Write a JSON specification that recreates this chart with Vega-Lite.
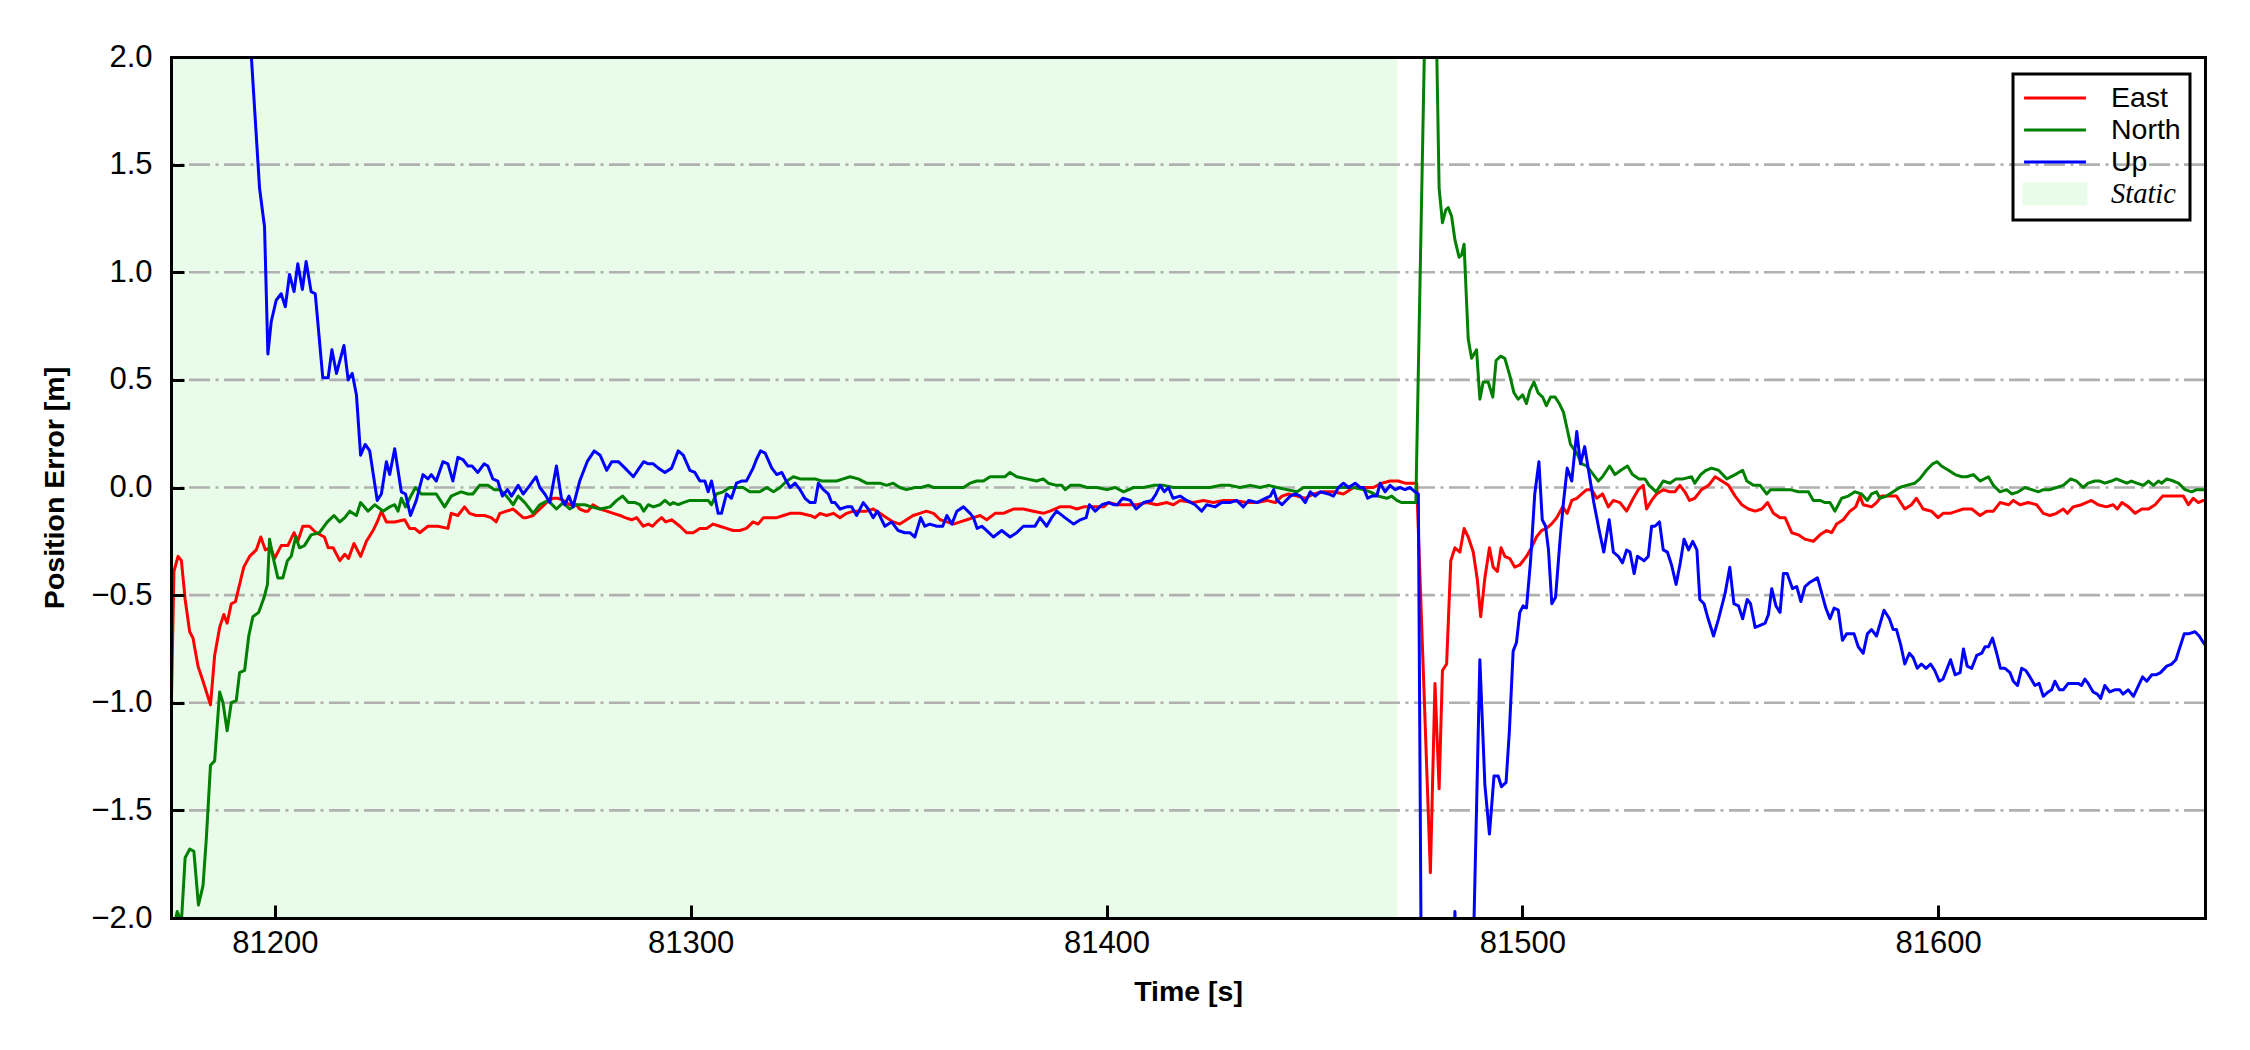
{
  "$schema": "https://vega.github.io/schema/vega-lite/v6.json",
  "width": 2034,
  "height": 861,
  "autosize": {"type": "none"},
  "padding": {"left": 171, "top": 57, "right": 45, "bottom": 132},
  "background": "white",
  "config": {
    "view": {"stroke": null},
    "axis": {"labelFont": "Liberation Sans", "titleFont": "Liberation Sans", "labelColor": "black", "titleColor": "black", "domainColor": "black", "domainWidth": 3, "domainCap": "square", "tickColor": "black", "grid": false},
    "legend": {"title": null, "orient": "none", "legendX": 1842, "legendY": 17, "strokeColor": "black", "padding": 9, "symbolSize": 676,
               "symbolStrokeWidth": 3.2, "symbolOffset": 18, "labelFontSize": 28.5, "labelFont": "Liberation Sans", "labelColor": "black",
               "labelOffset": 41, "rowPadding": -4.5, "gridAlign": "all", "cornerRadius": 0}
  },
  "datasets": {
    "series": [
      {"t":81175.0,"v":-1.10,"s":"East"},{"t":81175.7,"v":-0.39,"s":"East"},{"t":81176.7,"v":-0.32,"s":"East"},{"t":81177.5,"v":-0.34,"s":"East"},{"t":81178.4,"v":-0.52,"s":"East"},{"t":81179.5,"v":-0.67,"s":"East"},{"t":81180.3,"v":-0.70,"s":"East"},{"t":81181.5,"v":-0.83,"s":"East"},{"t":81182.7,"v":-0.90,"s":"East"},{"t":81184.5,"v":-1.01,"s":"East"},{"t":81185.5,"v":-0.78,"s":"East"},{"t":81186.7,"v":-0.65,"s":"East"},{"t":81187.7,"v":-0.59,"s":"East"},{"t":81188.5,"v":-0.63,"s":"East"},{"t":81189.5,"v":-0.54,"s":"East"},{"t":81190.5,"v":-0.53,"s":"East"},{"t":81191.5,"v":-0.45,"s":"East"},{"t":81192.5,"v":-0.37,"s":"East"},{"t":81193.9,"v":-0.32,"s":"East"},{"t":81195.5,"v":-0.29,"s":"East"},{"t":81196.6,"v":-0.23,"s":"East"},{"t":81197.7,"v":-0.29,"s":"East"},{"t":81199.0,"v":-0.28,"s":"East"},{"t":81199.9,"v":-0.33,"s":"East"},{"t":81201.5,"v":-0.27,"s":"East"},{"t":81203.1,"v":-0.27,"s":"East"},{"t":81204.6,"v":-0.21,"s":"East"},{"t":81205.5,"v":-0.25,"s":"East"},{"t":81206.7,"v":-0.18,"s":"East"},{"t":81208.3,"v":-0.18,"s":"East"},{"t":81209.9,"v":-0.21,"s":"East"},{"t":81211.9,"v":-0.23,"s":"East"},{"t":81212.8,"v":-0.28,"s":"East"},{"t":81214.0,"v":-0.28,"s":"East"},{"t":81215.6,"v":-0.34,"s":"East"},{"t":81216.8,"v":-0.31,"s":"East"},{"t":81217.7,"v":-0.33,"s":"East"},{"t":81219.0,"v":-0.26,"s":"East"},{"t":81220.6,"v":-0.32,"s":"East"},{"t":81222.0,"v":-0.25,"s":"East"},{"t":81223.6,"v":-0.20,"s":"East"},{"t":81224.6,"v":-0.16,"s":"East"},{"t":81225.6,"v":-0.11,"s":"East"},{"t":81226.8,"v":-0.16,"s":"East"},{"t":81228.8,"v":-0.16,"s":"East"},{"t":81231.2,"v":-0.15,"s":"East"},{"t":81232.4,"v":-0.19,"s":"East"},{"t":81233.6,"v":-0.19,"s":"East"},{"t":81234.8,"v":-0.21,"s":"East"},{"t":81236.8,"v":-0.18,"s":"East"},{"t":81239.2,"v":-0.18,"s":"East"},{"t":81241.6,"v":-0.19,"s":"East"},{"t":81242.4,"v":-0.12,"s":"East"},{"t":81244.0,"v":-0.13,"s":"East"},{"t":81245.6,"v":-0.09,"s":"East"},{"t":81246.8,"v":-0.12,"s":"East"},{"t":81248.4,"v":-0.13,"s":"East"},{"t":81250.4,"v":-0.13,"s":"East"},{"t":81252.0,"v":-0.14,"s":"East"},{"t":81253.2,"v":-0.16,"s":"East"},
      {"t":81254.1,"v":-0.12,"s":"East"},{"t":81255.7,"v":-0.11,"s":"East"},{"t":81257.3,"v":-0.10,"s":"East"},{"t":81258.5,"v":-0.12,"s":"East"},{"t":81259.7,"v":-0.14,"s":"East"},{"t":81260.5,"v":-0.14,"s":"East"},{"t":81262.1,"v":-0.13,"s":"East"},{"t":81263.7,"v":-0.10,"s":"East"},{"t":81265.3,"v":-0.07,"s":"East"},{"t":81266.9,"v":-0.05,"s":"East"},{"t":81268.1,"v":-0.05,"s":"East"},{"t":81269.3,"v":-0.06,"s":"East"},{"t":81270.9,"v":-0.08,"s":"East"},{"t":81272.5,"v":-0.08,"s":"East"},{"t":81273.3,"v":-0.10,"s":"East"},{"t":81274.5,"v":-0.11,"s":"East"},{"t":81275.3,"v":-0.11,"s":"East"},{"t":81276.5,"v":-0.08,"s":"East"},{"t":81278.2,"v":-0.10,"s":"East"},{"t":81279.8,"v":-0.11,"s":"East"},{"t":81281.4,"v":-0.12,"s":"East"},{"t":81283.0,"v":-0.13,"s":"East"},{"t":81284.2,"v":-0.14,"s":"East"},{"t":81285.8,"v":-0.15,"s":"East"},{"t":81287.0,"v":-0.14,"s":"East"},{"t":81288.6,"v":-0.18,"s":"East"},{"t":81289.8,"v":-0.17,"s":"East"},{"t":81290.8,"v":-0.18,"s":"East"},{"t":81291.8,"v":-0.16,"s":"East"},{"t":81293.0,"v":-0.14,"s":"East"},{"t":81294.0,"v":-0.16,"s":"East"},{"t":81295.4,"v":-0.15,"s":"East"},{"t":81297.4,"v":-0.18,"s":"East"},{"t":81299.0,"v":-0.21,"s":"East"},{"t":81300.6,"v":-0.21,"s":"East"},{"t":81302.2,"v":-0.19,"s":"East"},{"t":81303.8,"v":-0.19,"s":"East"},{"t":81305.4,"v":-0.17,"s":"East"},{"t":81307.0,"v":-0.18,"s":"East"},{"t":81308.6,"v":-0.19,"s":"East"},{"t":81310.2,"v":-0.20,"s":"East"},{"t":81311.8,"v":-0.20,"s":"East"},{"t":81313.4,"v":-0.19,"s":"East"},{"t":81315.0,"v":-0.16,"s":"East"},{"t":81316.2,"v":-0.17,"s":"East"},{"t":81317.5,"v":-0.14,"s":"East"},{"t":81319.1,"v":-0.14,"s":"East"},{"t":81320.7,"v":-0.14,"s":"East"},{"t":81322.3,"v":-0.13,"s":"East"},{"t":81323.9,"v":-0.12,"s":"East"},{"t":81326.3,"v":-0.12,"s":"East"},{"t":81328.7,"v":-0.13,"s":"East"},{"t":81329.9,"v":-0.14,"s":"East"},{"t":81331.1,"v":-0.12,"s":"East"},{"t":81332.7,"v":-0.13,"s":"East"},{"t":81334.3,"v":-0.12,"s":"East"},{"t":81335.9,"v":-0.14,"s":"East"},{"t":81337.5,"v":-0.12,"s":"East"},{"t":81339.1,"v":-0.11,"s":"East"},{"t":81340.7,"v":-0.11,"s":"East"},{"t":81342.3,"v":-0.11,"s":"East"},{"t":81343.9,"v":-0.10,"s":"East"},{"t":81345.5,"v":-0.12,"s":"East"},{"t":81347.1,"v":-0.14,"s":"East"},{"t":81348.7,"v":-0.16,"s":"East"},{"t":81350.3,"v":-0.17,"s":"East"},{"t":81351.9,"v":-0.15,"s":"East"},{"t":81353.5,"v":-0.13,"s":"East"},{"t":81355.1,"v":-0.12,"s":"East"},{"t":81356.7,"v":-0.11,"s":"East"},{"t":81358.4,"v":-0.12,"s":"East"},{"t":81360.0,"v":-0.15,"s":"East"},{"t":81361.6,"v":-0.16,"s":"East"},{"t":81363.2,"v":-0.17,"s":"East"},{"t":81364.8,"v":-0.16,"s":"East"},{"t":81366.4,"v":-0.15,"s":"East"},{"t":81368.0,"v":-0.14,"s":"East"},
      {"t":81369.6,"v":-0.13,"s":"East"},{"t":81371.2,"v":-0.15,"s":"East"},{"t":81373.2,"v":-0.12,"s":"East"},{"t":81375.2,"v":-0.12,"s":"East"},{"t":81377.6,"v":-0.10,"s":"East"},{"t":81380.0,"v":-0.10,"s":"East"},{"t":81382.4,"v":-0.11,"s":"East"},{"t":81384.8,"v":-0.12,"s":"East"},{"t":81386.4,"v":-0.11,"s":"East"},{"t":81388.8,"v":-0.09,"s":"East"},{"t":81391.3,"v":-0.09,"s":"East"},{"t":81392.9,"v":-0.10,"s":"East"},{"t":81394.5,"v":-0.09,"s":"East"},{"t":81396.9,"v":-0.09,"s":"East"},{"t":81399.3,"v":-0.09,"s":"East"},{"t":81400.5,"v":-0.07,"s":"East"},{"t":81402.5,"v":-0.08,"s":"East"},{"t":81404.9,"v":-0.08,"s":"East"},{"t":81407.3,"v":-0.08,"s":"East"},{"t":81409.7,"v":-0.07,"s":"East"},{"t":81412.1,"v":-0.08,"s":"East"},{"t":81414.5,"v":-0.07,"s":"East"},{"t":81416.1,"v":-0.08,"s":"East"},{"t":81417.7,"v":-0.06,"s":"East"},{"t":81420.9,"v":-0.07,"s":"East"},{"t":81423.3,"v":-0.06,"s":"East"},{"t":81425.7,"v":-0.07,"s":"East"},{"t":81428.1,"v":-0.06,"s":"East"},{"t":81430.5,"v":-0.06,"s":"East"},{"t":81433.8,"v":-0.07,"s":"East"},{"t":81436.2,"v":-0.07,"s":"East"},{"t":81438.6,"v":-0.06,"s":"East"},{"t":81440.6,"v":-0.07,"s":"East"},{"t":81442.2,"v":-0.04,"s":"East"},{"t":81443.8,"v":-0.03,"s":"East"},{"t":81445.8,"v":-0.04,"s":"East"},{"t":81447.8,"v":-0.05,"s":"East"},{"t":81449.8,"v":-0.03,"s":"East"},{"t":81452.2,"v":-0.02,"s":"East"},{"t":81454.6,"v":-0.02,"s":"East"},{"t":81457.0,"v":-0.03,"s":"East"},{"t":81459.4,"v":0.00,"s":"East"},{"t":81461.8,"v":0.00,"s":"East"},{"t":81464.2,"v":0.00,"s":"East"},{"t":81466.2,"v":0.02,"s":"East"},{"t":81468.2,"v":0.03,"s":"East"},{"t":81470.2,"v":0.03,"s":"East"},{"t":81471.8,"v":0.02,"s":"East"},{"t":81473.8,"v":0.02,"s":"East"},{"t":81474.6,"v":0.02,"s":"East"},
      {"t":81477.9,"v":-1.79,"s":"East"},{"t":81479.0,"v":-0.91,"s":"East"},{"t":81480.0,"v":-1.40,"s":"East"},{"t":81480.8,"v":-0.85,"s":"East"},{"t":81481.8,"v":-0.82,"s":"East"},{"t":81482.8,"v":-0.34,"s":"East"},{"t":81483.8,"v":-0.28,"s":"East"},{"t":81485.0,"v":-0.30,"s":"East"},{"t":81486.0,"v":-0.19,"s":"East"},{"t":81487.0,"v":-0.23,"s":"East"},{"t":81488.2,"v":-0.30,"s":"East"},{"t":81489.2,"v":-0.43,"s":"East"},{"t":81490.0,"v":-0.60,"s":"East"},{"t":81491.0,"v":-0.42,"s":"East"},{"t":81492.1,"v":-0.28,"s":"East"},{"t":81493.0,"v":-0.37,"s":"East"},{"t":81494.0,"v":-0.39,"s":"East"},{"t":81494.9,"v":-0.28,"s":"East"},{"t":81495.8,"v":-0.32,"s":"East"},{"t":81497.0,"v":-0.33,"s":"East"},{"t":81498.2,"v":-0.37,"s":"East"},{"t":81499.4,"v":-0.36,"s":"East"},{"t":81501.0,"v":-0.32,"s":"East"},{"t":81502.2,"v":-0.28,"s":"East"},{"t":81503.4,"v":-0.23,"s":"East"},{"t":81504.6,"v":-0.20,"s":"East"},{"t":81505.8,"v":-0.19,"s":"East"},{"t":81507.0,"v":-0.17,"s":"East"},{"t":81508.3,"v":-0.14,"s":"East"},{"t":81509.7,"v":-0.09,"s":"East"},{"t":81510.8,"v":-0.12,"s":"East"},{"t":81511.9,"v":-0.06,"s":"East"},{"t":81513.1,"v":-0.05,"s":"East"},{"t":81514.3,"v":-0.03,"s":"East"},{"t":81515.5,"v":-0.01,"s":"East"},{"t":81516.7,"v":-0.01,"s":"East"},{"t":81517.9,"v":-0.05,"s":"East"},{"t":81519.3,"v":-0.03,"s":"East"},{"t":81520.7,"v":-0.09,"s":"East"},{"t":81521.9,"v":-0.06,"s":"East"},{"t":81523.5,"v":-0.07,"s":"East"},{"t":81525.1,"v":-0.11,"s":"East"},{"t":81526.7,"v":-0.05,"s":"East"},{"t":81527.9,"v":-0.01,"s":"East"},{"t":81529.1,"v":0.01,"s":"East"},{"t":81529.9,"v":-0.10,"s":"East"},{"t":81531.1,"v":-0.06,"s":"East"},{"t":81532.3,"v":-0.03,"s":"East"},{"t":81533.9,"v":-0.01,"s":"East"},{"t":81535.5,"v":-0.02,"s":"East"},{"t":81536.7,"v":-0.02,"s":"East"},{"t":81537.9,"v":0.01,"s":"East"},{"t":81539.1,"v":-0.02,"s":"East"},{"t":81540.2,"v":-0.06,"s":"East"},{"t":81541.5,"v":-0.05,"s":"East"},{"t":81543.1,"v":-0.01,"s":"East"},{"t":81544.8,"v":0.01,"s":"East"},{"t":81546.4,"v":0.05,"s":"East"},{"t":81548.0,"v":0.03,"s":"East"},{"t":81549.6,"v":0.01,"s":"East"},{"t":81551.2,"v":-0.04,"s":"East"},{"t":81552.8,"v":-0.08,"s":"East"},{"t":81554.4,"v":-0.10,"s":"East"},{"t":81556.0,"v":-0.11,"s":"East"},{"t":81557.6,"v":-0.10,"s":"East"},{"t":81559.0,"v":-0.07,"s":"East"},{"t":81560.4,"v":-0.12,"s":"East"},
      {"t":81562.0,"v":-0.14,"s":"East"},{"t":81563.2,"v":-0.14,"s":"East"},{"t":81564.8,"v":-0.21,"s":"East"},{"t":81566.4,"v":-0.22,"s":"East"},{"t":81568.0,"v":-0.24,"s":"East"},{"t":81570.0,"v":-0.25,"s":"East"},{"t":81571.6,"v":-0.22,"s":"East"},{"t":81573.2,"v":-0.20,"s":"East"},{"t":81574.4,"v":-0.21,"s":"East"},{"t":81575.6,"v":-0.17,"s":"East"},{"t":81577.2,"v":-0.15,"s":"East"},{"t":81578.8,"v":-0.11,"s":"East"},{"t":81580.2,"v":-0.09,"s":"East"},{"t":81581.2,"v":-0.04,"s":"East"},{"t":81582.0,"v":-0.08,"s":"East"},{"t":81584.0,"v":-0.09,"s":"East"},{"t":81585.2,"v":-0.07,"s":"East"},{"t":81586.4,"v":-0.04,"s":"East"},{"t":81588.0,"v":-0.04,"s":"East"},{"t":81590.0,"v":-0.04,"s":"East"},{"t":81592.0,"v":-0.10,"s":"East"},{"t":81593.6,"v":-0.08,"s":"East"},{"t":81594.8,"v":-0.05,"s":"East"},{"t":81596.4,"v":-0.10,"s":"East"},{"t":81598.4,"v":-0.11,"s":"East"},{"t":81600.0,"v":-0.14,"s":"East"},{"t":81601.2,"v":-0.12,"s":"East"},{"t":81602.9,"v":-0.12,"s":"East"},{"t":81604.5,"v":-0.11,"s":"East"},{"t":81606.1,"v":-0.10,"s":"East"},{"t":81608.1,"v":-0.10,"s":"East"},{"t":81610.1,"v":-0.13,"s":"East"},{"t":81611.7,"v":-0.11,"s":"East"},{"t":81613.3,"v":-0.11,"s":"East"},{"t":81614.9,"v":-0.07,"s":"East"},{"t":81617.0,"v":-0.08,"s":"East"},{"t":81618.1,"v":-0.06,"s":"East"},{"t":81619.7,"v":-0.08,"s":"East"},{"t":81621.7,"v":-0.07,"s":"East"},{"t":81623.7,"v":-0.08,"s":"East"},{"t":81625.3,"v":-0.12,"s":"East"},{"t":81626.9,"v":-0.13,"s":"East"},{"t":81628.5,"v":-0.12,"s":"East"},{"t":81630.1,"v":-0.10,"s":"East"},{"t":81631.1,"v":-0.12,"s":"East"},{"t":81632.5,"v":-0.09,"s":"East"},{"t":81634.5,"v":-0.08,"s":"East"},{"t":81636.9,"v":-0.06,"s":"East"},{"t":81638.5,"v":-0.08,"s":"East"},{"t":81640.5,"v":-0.09,"s":"East"},{"t":81642.1,"v":-0.08,"s":"East"},{"t":81643.1,"v":-0.10,"s":"East"},{"t":81644.2,"v":-0.07,"s":"East"},{"t":81645.8,"v":-0.09,"s":"East"},{"t":81647.4,"v":-0.12,"s":"East"},{"t":81649.0,"v":-0.10,"s":"East"},{"t":81650.6,"v":-0.10,"s":"East"},{"t":81652.2,"v":-0.08,"s":"East"},{"t":81654.0,"v":-0.04,"s":"East"},{"t":81655.8,"v":-0.04,"s":"East"},{"t":81657.8,"v":-0.04,"s":"East"},{"t":81659.0,"v":-0.04,"s":"East"},{"t":81660.2,"v":-0.08,"s":"East"},{"t":81661.4,"v":-0.05,"s":"East"},{"t":81662.6,"v":-0.07,"s":"East"},{"t":81663.8,"v":-0.06,"s":"East"},{"t":81664.6,"v":-0.06,"s":"East"},

      {"t":81175.0,"v":-2.10,"s":"North"},{"t":81176.5,"v":-1.97,"s":"North"},{"t":81177.5,"v":-2.02,"s":"North"},{"t":81178.4,"v":-1.72,"s":"North"},{"t":81179.5,"v":-1.68,"s":"North"},{"t":81180.5,"v":-1.69,"s":"North"},{"t":81181.6,"v":-1.94,"s":"North"},{"t":81182.7,"v":-1.85,"s":"North"},{"t":81183.5,"v":-1.63,"s":"North"},{"t":81184.5,"v":-1.29,"s":"North"},{"t":81185.5,"v":-1.27,"s":"North"},{"t":81186.7,"v":-0.95,"s":"North"},{"t":81187.5,"v":-1.00,"s":"North"},{"t":81188.5,"v":-1.13,"s":"North"},{"t":81189.5,"v":-1.00,"s":"North"},{"t":81190.7,"v":-0.99,"s":"North"},{"t":81191.5,"v":-0.86,"s":"North"},{"t":81192.7,"v":-0.85,"s":"North"},{"t":81193.7,"v":-0.69,"s":"North"},{"t":81194.7,"v":-0.60,"s":"North"},{"t":81196.1,"v":-0.58,"s":"North"},{"t":81197.4,"v":-0.51,"s":"North"},{"t":81198.2,"v":-0.45,"s":"North"},{"t":81198.7,"v":-0.24,"s":"North"},{"t":81199.5,"v":-0.32,"s":"North"},{"t":81200.7,"v":-0.42,"s":"North"},{"t":81201.9,"v":-0.42,"s":"North"},{"t":81203.0,"v":-0.34,"s":"North"},{"t":81203.9,"v":-0.32,"s":"North"},{"t":81205.0,"v":-0.23,"s":"North"},{"t":81205.9,"v":-0.28,"s":"North"},{"t":81207.1,"v":-0.27,"s":"North"},{"t":81208.7,"v":-0.22,"s":"North"},{"t":81210.7,"v":-0.21,"s":"North"},{"t":81212.6,"v":-0.16,"s":"North"},{"t":81214.2,"v":-0.13,"s":"North"},{"t":81215.6,"v":-0.16,"s":"North"},{"t":81216.8,"v":-0.14,"s":"North"},{"t":81218.0,"v":-0.11,"s":"North"},{"t":81219.6,"v":-0.13,"s":"North"},{"t":81220.6,"v":-0.07,"s":"North"},{"t":81222.4,"v":-0.11,"s":"North"},{"t":81224.0,"v":-0.08,"s":"North"},{"t":81226.0,"v":-0.11,"s":"North"},{"t":81227.6,"v":-0.09,"s":"North"},{"t":81228.8,"v":-0.08,"s":"North"},{"t":81229.6,"v":-0.11,"s":"North"},{"t":81230.4,"v":-0.05,"s":"North"},{"t":81231.4,"v":-0.09,"s":"North"},{"t":81232.4,"v":-0.05,"s":"North"},{"t":81233.8,"v":0.00,"s":"North"},{"t":81235.2,"v":-0.03,"s":"North"},{"t":81236.8,"v":-0.03,"s":"North"},{"t":81238.8,"v":-0.03,"s":"North"},{"t":81240.8,"v":-0.09,"s":"North"},{"t":81242.4,"v":-0.04,"s":"North"},{"t":81243.6,"v":-0.03,"s":"North"},{"t":81244.8,"v":-0.02,"s":"North"},{"t":81246.4,"v":-0.03,"s":"North"},{"t":81247.6,"v":-0.03,"s":"North"},{"t":81249.2,"v":0.01,"s":"North"},{"t":81251.2,"v":0.01,"s":"North"},{"t":81252.8,"v":-0.01,"s":"North"},
      {"t":81254.1,"v":-0.01,"s":"North"},{"t":81255.7,"v":-0.04,"s":"North"},{"t":81257.3,"v":-0.08,"s":"North"},{"t":81258.5,"v":-0.04,"s":"North"},{"t":81260.1,"v":-0.07,"s":"North"},{"t":81262.1,"v":-0.12,"s":"North"},{"t":81263.7,"v":-0.08,"s":"North"},{"t":81265.7,"v":-0.06,"s":"North"},{"t":81267.7,"v":-0.10,"s":"North"},{"t":81269.3,"v":-0.07,"s":"North"},{"t":81270.9,"v":-0.10,"s":"North"},{"t":81272.5,"v":-0.08,"s":"North"},{"t":81274.5,"v":-0.08,"s":"North"},{"t":81276.1,"v":-0.09,"s":"North"},{"t":81278.2,"v":-0.10,"s":"North"},{"t":81280.6,"v":-0.09,"s":"North"},{"t":81282.2,"v":-0.06,"s":"North"},{"t":81283.6,"v":-0.04,"s":"North"},{"t":81285.0,"v":-0.07,"s":"North"},{"t":81286.6,"v":-0.07,"s":"North"},{"t":81287.8,"v":-0.08,"s":"North"},{"t":81288.7,"v":-0.11,"s":"North"},{"t":81289.8,"v":-0.08,"s":"North"},{"t":81291.0,"v":-0.09,"s":"North"},{"t":81292.6,"v":-0.08,"s":"North"},{"t":81293.8,"v":-0.06,"s":"North"},{"t":81295.0,"v":-0.08,"s":"North"},{"t":81295.8,"v":-0.07,"s":"North"},{"t":81297.0,"v":-0.08,"s":"North"},{"t":81298.2,"v":-0.07,"s":"North"},{"t":81299.8,"v":-0.06,"s":"North"},{"t":81302.2,"v":-0.06,"s":"North"},{"t":81304.2,"v":-0.06,"s":"North"},{"t":81305.0,"v":-0.08,"s":"North"},{"t":81306.2,"v":-0.03,"s":"North"},{"t":81307.8,"v":-0.02,"s":"North"},{"t":81309.4,"v":0.00,"s":"North"},{"t":81311.0,"v":0.00,"s":"North"},{"t":81312.6,"v":0.00,"s":"North"},{"t":81314.2,"v":-0.02,"s":"North"},{"t":81316.6,"v":-0.02,"s":"North"},{"t":81318.3,"v":0.00,"s":"North"},{"t":81319.9,"v":-0.02,"s":"North"},{"t":81321.5,"v":0.00,"s":"North"},{"t":81323.1,"v":0.03,"s":"North"},{"t":81324.7,"v":0.05,"s":"North"},{"t":81326.3,"v":0.04,"s":"North"},{"t":81328.3,"v":0.04,"s":"North"},{"t":81329.9,"v":0.04,"s":"North"},{"t":81331.5,"v":0.03,"s":"North"},{"t":81333.5,"v":0.03,"s":"North"},{"t":81335.1,"v":0.03,"s":"North"},{"t":81336.7,"v":0.04,"s":"North"},{"t":81338.3,"v":0.05,"s":"North"},{"t":81340.3,"v":0.04,"s":"North"},{"t":81342.3,"v":0.02,"s":"North"},{"t":81343.9,"v":0.02,"s":"North"},{"t":81345.5,"v":0.02,"s":"North"},{"t":81347.1,"v":0.01,"s":"North"},{"t":81348.7,"v":0.02,"s":"North"},{"t":81350.3,"v":0.00,"s":"North"},{"t":81351.9,"v":-0.01,"s":"North"},{"t":81353.9,"v":0.00,"s":"North"},{"t":81355.5,"v":0.00,"s":"North"},{"t":81357.1,"v":0.01,"s":"North"},{"t":81358.4,"v":0.00,"s":"North"},{"t":81360.0,"v":0.00,"s":"North"},{"t":81361.9,"v":0.00,"s":"North"},{"t":81363.6,"v":0.00,"s":"North"},{"t":81365.6,"v":0.00,"s":"North"},{"t":81367.2,"v":0.02,"s":"North"},{"t":81368.8,"v":0.03,"s":"North"},
      {"t":81370.4,"v":0.03,"s":"North"},{"t":81372.0,"v":0.05,"s":"North"},{"t":81374.0,"v":0.05,"s":"North"},{"t":81375.6,"v":0.05,"s":"North"},{"t":81376.8,"v":0.07,"s":"North"},{"t":81378.4,"v":0.05,"s":"North"},{"t":81380.8,"v":0.04,"s":"North"},{"t":81383.2,"v":0.03,"s":"North"},{"t":81384.8,"v":0.04,"s":"North"},{"t":81386.0,"v":0.02,"s":"North"},{"t":81388.0,"v":0.01,"s":"North"},{"t":81389.2,"v":0.01,"s":"North"},{"t":81390.1,"v":-0.01,"s":"North"},{"t":81391.3,"v":0.01,"s":"North"},{"t":81393.7,"v":0.01,"s":"North"},{"t":81395.3,"v":0.00,"s":"North"},{"t":81397.7,"v":0.00,"s":"North"},{"t":81400.1,"v":-0.01,"s":"North"},{"t":81402.1,"v":0.00,"s":"North"},{"t":81404.1,"v":-0.02,"s":"North"},{"t":81406.5,"v":0.00,"s":"North"},{"t":81408.9,"v":0.00,"s":"North"},{"t":81411.3,"v":0.01,"s":"North"},{"t":81413.7,"v":0.01,"s":"North"},{"t":81416.1,"v":0.00,"s":"North"},{"t":81419.3,"v":0.00,"s":"North"},{"t":81422.5,"v":0.00,"s":"North"},{"t":81424.9,"v":0.00,"s":"North"},{"t":81427.3,"v":0.01,"s":"North"},{"t":81429.7,"v":0.01,"s":"North"},{"t":81432.1,"v":0.00,"s":"North"},{"t":81434.6,"v":0.01,"s":"North"},{"t":81437.0,"v":0.00,"s":"North"},{"t":81439.0,"v":0.01,"s":"North"},{"t":81441.0,"v":0.00,"s":"North"},{"t":81443.4,"v":-0.01,"s":"North"},{"t":81445.8,"v":-0.02,"s":"North"},{"t":81447.4,"v":0.00,"s":"North"},{"t":81449.8,"v":0.00,"s":"North"},{"t":81452.2,"v":0.00,"s":"North"},{"t":81454.6,"v":0.00,"s":"North"},{"t":81457.0,"v":0.00,"s":"North"},{"t":81459.4,"v":0.00,"s":"North"},{"t":81461.8,"v":-0.01,"s":"North"},{"t":81463.4,"v":-0.02,"s":"North"},{"t":81465.4,"v":-0.04,"s":"North"},{"t":81467.4,"v":-0.05,"s":"North"},{"t":81468.6,"v":-0.04,"s":"North"},{"t":81469.8,"v":-0.06,"s":"North"},{"t":81471.0,"v":-0.07,"s":"North"},{"t":81472.6,"v":-0.07,"s":"North"},{"t":81474.4,"v":-0.07,"s":"North"},
      {"t":81478.0,"v":3.6,"s":"North"},{"t":81480.0,"v":1.39,"s":"North"},{"t":81480.8,"v":1.23,"s":"North"},{"t":81481.6,"v":1.29,"s":"North"},{"t":81482.2,"v":1.30,"s":"North"},{"t":81483.0,"v":1.26,"s":"North"},{"t":81483.8,"v":1.15,"s":"North"},{"t":81484.8,"v":1.07,"s":"North"},{"t":81485.4,"v":1.08,"s":"North"},{"t":81486.0,"v":1.13,"s":"North"},{"t":81486.4,"v":0.95,"s":"North"},{"t":81487.0,"v":0.69,"s":"North"},{"t":81487.8,"v":0.60,"s":"North"},{"t":81488.4,"v":0.62,"s":"North"},{"t":81489.0,"v":0.64,"s":"North"},{"t":81489.8,"v":0.41,"s":"North"},{"t":81490.6,"v":0.49,"s":"North"},{"t":81491.8,"v":0.49,"s":"North"},{"t":81492.9,"v":0.42,"s":"North"},{"t":81493.7,"v":0.59,"s":"North"},{"t":81494.8,"v":0.61,"s":"North"},{"t":81495.8,"v":0.60,"s":"North"},{"t":81497.0,"v":0.52,"s":"North"},{"t":81498.0,"v":0.44,"s":"North"},{"t":81499.0,"v":0.41,"s":"North"},{"t":81500.1,"v":0.43,"s":"North"},{"t":81501.0,"v":0.39,"s":"North"},{"t":81501.8,"v":0.45,"s":"North"},{"t":81502.8,"v":0.49,"s":"North"},{"t":81503.8,"v":0.44,"s":"North"},{"t":81504.9,"v":0.42,"s":"North"},{"t":81505.8,"v":0.38,"s":"North"},{"t":81506.8,"v":0.42,"s":"North"},{"t":81507.9,"v":0.42,"s":"North"},{"t":81508.9,"v":0.39,"s":"North"},{"t":81509.9,"v":0.35,"s":"North"},{"t":81510.7,"v":0.28,"s":"North"},{"t":81511.6,"v":0.20,"s":"North"},{"t":81513.1,"v":0.16,"s":"North"},{"t":81514.3,"v":0.11,"s":"North"},{"t":81515.5,"v":0.10,"s":"North"},{"t":81517.1,"v":0.06,"s":"North"},{"t":81518.3,"v":0.03,"s":"North"},{"t":81519.3,"v":0.05,"s":"North"},{"t":81521.0,"v":0.10,"s":"North"},{"t":81522.3,"v":0.06,"s":"North"},{"t":81523.7,"v":0.08,"s":"North"},{"t":81525.3,"v":0.10,"s":"North"},{"t":81526.5,"v":0.06,"s":"North"},{"t":81528.1,"v":0.04,"s":"North"},{"t":81529.5,"v":0.04,"s":"North"},{"t":81530.5,"v":0.01,"s":"North"},{"t":81532.2,"v":-0.02,"s":"North"},{"t":81533.9,"v":0.03,"s":"North"},{"t":81535.5,"v":0.02,"s":"North"},{"t":81537.0,"v":0.04,"s":"North"},{"t":81538.7,"v":0.04,"s":"North"},{"t":81540.7,"v":0.05,"s":"North"},{"t":81541.5,"v":0.02,"s":"North"},{"t":81542.9,"v":0.06,"s":"North"},{"t":81544.2,"v":0.08,"s":"North"},{"t":81545.5,"v":0.09,"s":"North"},{"t":81547.2,"v":0.08,"s":"North"},{"t":81549.2,"v":0.04,"s":"North"},{"t":81551.2,"v":0.06,"s":"North"},{"t":81553.0,"v":0.08,"s":"North"},{"t":81554.0,"v":0.03,"s":"North"},{"t":81555.6,"v":0.01,"s":"North"},{"t":81557.2,"v":0.01,"s":"North"},{"t":81558.8,"v":-0.03,"s":"North"},{"t":81559.7,"v":-0.01,"s":"North"},{"t":81561.2,"v":-0.01,"s":"North"},{"t":81562.8,"v":-0.01,"s":"North"},{"t":81564.4,"v":-0.01,"s":"North"},{"t":81566.4,"v":-0.02,"s":"North"},
      {"t":81567.2,"v":-0.02,"s":"North"},{"t":81568.8,"v":-0.02,"s":"North"},{"t":81570.0,"v":-0.06,"s":"North"},{"t":81571.6,"v":-0.06,"s":"North"},{"t":81572.8,"v":-0.07,"s":"North"},{"t":81574.0,"v":-0.07,"s":"North"},{"t":81575.2,"v":-0.11,"s":"North"},{"t":81576.8,"v":-0.05,"s":"North"},{"t":81578.4,"v":-0.04,"s":"North"},{"t":81580.0,"v":-0.02,"s":"North"},{"t":81581.6,"v":-0.03,"s":"North"},{"t":81583.0,"v":-0.06,"s":"North"},{"t":81584.0,"v":-0.03,"s":"North"},{"t":81585.2,"v":-0.02,"s":"North"},{"t":81586.0,"v":-0.05,"s":"North"},{"t":81587.6,"v":-0.04,"s":"North"},{"t":81589.2,"v":-0.02,"s":"North"},{"t":81590.8,"v":0.00,"s":"North"},{"t":81592.4,"v":0.01,"s":"North"},{"t":81594.4,"v":0.02,"s":"North"},{"t":81595.6,"v":0.04,"s":"North"},{"t":81597.2,"v":0.08,"s":"North"},{"t":81598.7,"v":0.11,"s":"North"},{"t":81599.8,"v":0.12,"s":"North"},{"t":81600.8,"v":0.10,"s":"North"},{"t":81602.5,"v":0.08,"s":"North"},{"t":81604.1,"v":0.06,"s":"North"},{"t":81605.7,"v":0.05,"s":"North"},{"t":81606.9,"v":0.05,"s":"North"},{"t":81608.5,"v":0.06,"s":"North"},{"t":81610.1,"v":0.03,"s":"North"},{"t":81612.1,"v":0.05,"s":"North"},{"t":81613.3,"v":0.01,"s":"North"},{"t":81614.9,"v":-0.02,"s":"North"},{"t":81616.5,"v":-0.01,"s":"North"},{"t":81617.7,"v":-0.03,"s":"North"},{"t":81619.3,"v":-0.02,"s":"North"},{"t":81620.9,"v":0.00,"s":"North"},{"t":81622.5,"v":-0.01,"s":"North"},{"t":81624.1,"v":-0.02,"s":"North"},{"t":81625.3,"v":-0.01,"s":"North"},{"t":81626.9,"v":-0.01,"s":"North"},{"t":81628.5,"v":0.00,"s":"North"},{"t":81630.1,"v":0.01,"s":"North"},{"t":81631.9,"v":0.04,"s":"North"},{"t":81633.3,"v":0.03,"s":"North"},{"t":81634.9,"v":0.00,"s":"North"},{"t":81636.1,"v":0.02,"s":"North"},{"t":81637.7,"v":0.03,"s":"North"},{"t":81638.9,"v":0.03,"s":"North"},{"t":81640.1,"v":0.02,"s":"North"},{"t":81641.7,"v":0.03,"s":"North"},{"t":81642.9,"v":0.04,"s":"North"},{"t":81644.2,"v":0.03,"s":"North"},{"t":81645.4,"v":0.02,"s":"North"},{"t":81646.5,"v":0.03,"s":"North"},{"t":81647.8,"v":0.02,"s":"North"},{"t":81649.4,"v":0.01,"s":"North"},{"t":81650.6,"v":0.03,"s":"North"},{"t":81651.8,"v":0.01,"s":"North"},{"t":81653.0,"v":0.03,"s":"North"},{"t":81653.8,"v":0.02,"s":"North"},{"t":81655.0,"v":0.04,"s":"North"},{"t":81656.6,"v":0.03,"s":"North"},{"t":81657.8,"v":0.02,"s":"North"},{"t":81659.4,"v":-0.01,"s":"North"},{"t":81661.0,"v":-0.02,"s":"North"},{"t":81662.2,"v":-0.01,"s":"North"},{"t":81663.8,"v":-0.01,"s":"North"},{"t":81664.6,"v":-0.01,"s":"North"},

      {"t":81175.0,"v":8.0,"s":"Up"},{"t":81190.0,"v":3.2,"s":"Up"},{"t":81194.3,"v":2.01,"s":"Up"},{"t":81195.3,"v":1.70,"s":"Up"},{"t":81196.3,"v":1.39,"s":"Up"},{"t":81197.5,"v":1.21,"s":"Up"},{"t":81198.3,"v":0.62,"s":"Up"},{"t":81199.1,"v":0.77,"s":"Up"},{"t":81200.3,"v":0.87,"s":"Up"},{"t":81201.5,"v":0.90,"s":"Up"},{"t":81202.5,"v":0.84,"s":"Up"},{"t":81203.5,"v":0.99,"s":"Up"},{"t":81204.6,"v":0.91,"s":"Up"},{"t":81205.5,"v":1.04,"s":"Up"},{"t":81206.6,"v":0.92,"s":"Up"},{"t":81207.5,"v":1.05,"s":"Up"},{"t":81208.7,"v":0.91,"s":"Up"},{"t":81209.7,"v":0.90,"s":"Up"},{"t":81211.5,"v":0.51,"s":"Up"},{"t":81212.8,"v":0.51,"s":"Up"},{"t":81213.7,"v":0.64,"s":"Up"},{"t":81214.8,"v":0.53,"s":"Up"},{"t":81216.6,"v":0.66,"s":"Up"},{"t":81217.6,"v":0.50,"s":"Up"},{"t":81218.6,"v":0.53,"s":"Up"},{"t":81219.6,"v":0.43,"s":"Up"},{"t":81220.6,"v":0.15,"s":"Up"},{"t":81221.7,"v":0.20,"s":"Up"},{"t":81222.8,"v":0.17,"s":"Up"},{"t":81224.6,"v":-0.06,"s":"Up"},{"t":81225.6,"v":-0.03,"s":"Up"},{"t":81226.8,"v":0.12,"s":"Up"},{"t":81227.6,"v":0.06,"s":"Up"},{"t":81228.8,"v":0.18,"s":"Up"},{"t":81230.4,"v":-0.02,"s":"Up"},{"t":81231.4,"v":-0.03,"s":"Up"},{"t":81232.6,"v":-0.13,"s":"Up"},{"t":81234.0,"v":-0.06,"s":"Up"},{"t":81235.6,"v":0.06,"s":"Up"},{"t":81236.8,"v":0.04,"s":"Up"},{"t":81237.6,"v":0.06,"s":"Up"},{"t":81238.8,"v":0.03,"s":"Up"},{"t":81240.4,"v":0.12,"s":"Up"},{"t":81241.6,"v":0.11,"s":"Up"},{"t":81242.8,"v":0.03,"s":"Up"},{"t":81244.0,"v":0.14,"s":"Up"},{"t":81245.2,"v":0.13,"s":"Up"},{"t":81246.4,"v":0.10,"s":"Up"},{"t":81247.4,"v":0.10,"s":"Up"},{"t":81248.8,"v":0.07,"s":"Up"},{"t":81250.3,"v":0.11,"s":"Up"},{"t":81251.2,"v":0.10,"s":"Up"},{"t":81252.4,"v":0.04,"s":"Up"},{"t":81253.6,"v":0.03,"s":"Up"},
      {"t":81254.7,"v":-0.04,"s":"Up"},{"t":81255.9,"v":-0.01,"s":"Up"},{"t":81256.9,"v":-0.04,"s":"Up"},{"t":81258.5,"v":0.01,"s":"Up"},{"t":81259.7,"v":-0.03,"s":"Up"},{"t":81261.3,"v":0.01,"s":"Up"},{"t":81262.8,"v":0.05,"s":"Up"},{"t":81263.7,"v":0.00,"s":"Up"},{"t":81264.9,"v":-0.03,"s":"Up"},{"t":81266.1,"v":-0.07,"s":"Up"},{"t":81267.7,"v":0.10,"s":"Up"},{"t":81268.9,"v":-0.05,"s":"Up"},{"t":81269.7,"v":-0.08,"s":"Up"},{"t":81270.7,"v":-0.04,"s":"Up"},{"t":81271.7,"v":-0.09,"s":"Up"},{"t":81273.3,"v":0.03,"s":"Up"},{"t":81275.1,"v":0.12,"s":"Up"},{"t":81276.8,"v":0.17,"s":"Up"},{"t":81278.2,"v":0.15,"s":"Up"},{"t":81279.8,"v":0.08,"s":"Up"},{"t":81281.0,"v":0.12,"s":"Up"},{"t":81282.6,"v":0.12,"s":"Up"},{"t":81284.2,"v":0.09,"s":"Up"},{"t":81286.2,"v":0.05,"s":"Up"},{"t":81287.6,"v":0.09,"s":"Up"},{"t":81288.7,"v":0.12,"s":"Up"},{"t":81289.8,"v":0.11,"s":"Up"},{"t":81291.0,"v":0.11,"s":"Up"},{"t":81292.2,"v":0.09,"s":"Up"},{"t":81293.8,"v":0.07,"s":"Up"},{"t":81295.4,"v":0.09,"s":"Up"},{"t":81297.0,"v":0.17,"s":"Up"},{"t":81298.2,"v":0.15,"s":"Up"},{"t":81299.8,"v":0.08,"s":"Up"},{"t":81301.0,"v":0.07,"s":"Up"},{"t":81302.2,"v":0.03,"s":"Up"},{"t":81303.4,"v":0.03,"s":"Up"},{"t":81304.2,"v":-0.02,"s":"Up"},{"t":81305.0,"v":0.03,"s":"Up"},{"t":81306.6,"v":-0.12,"s":"Up"},{"t":81307.4,"v":-0.12,"s":"Up"},{"t":81308.6,"v":-0.03,"s":"Up"},{"t":81309.8,"v":-0.05,"s":"Up"},{"t":81311.0,"v":0.02,"s":"Up"},{"t":81312.2,"v":0.03,"s":"Up"},{"t":81313.4,"v":0.03,"s":"Up"},{"t":81315.0,"v":0.09,"s":"Up"},{"t":81315.8,"v":0.13,"s":"Up"},{"t":81316.8,"v":0.17,"s":"Up"},{"t":81317.9,"v":0.16,"s":"Up"},{"t":81319.5,"v":0.09,"s":"Up"},{"t":81320.7,"v":0.06,"s":"Up"},{"t":81321.9,"v":0.07,"s":"Up"},{"t":81322.7,"v":0.04,"s":"Up"},{"t":81323.9,"v":0.00,"s":"Up"},{"t":81325.1,"v":0.02,"s":"Up"},{"t":81326.3,"v":-0.01,"s":"Up"},{"t":81327.5,"v":-0.05,"s":"Up"},{"t":81328.7,"v":-0.07,"s":"Up"},{"t":81329.9,"v":-0.07,"s":"Up"},{"t":81330.7,"v":0.02,"s":"Up"},{"t":81331.9,"v":-0.01,"s":"Up"},{"t":81333.1,"v":-0.03,"s":"Up"},{"t":81333.9,"v":-0.07,"s":"Up"},{"t":81334.7,"v":-0.07,"s":"Up"},{"t":81335.9,"v":-0.10,"s":"Up"},{"t":81337.5,"v":-0.09,"s":"Up"},{"t":81338.7,"v":-0.09,"s":"Up"},{"t":81339.9,"v":-0.13,"s":"Up"},{"t":81341.5,"v":-0.07,"s":"Up"},{"t":81342.7,"v":-0.10,"s":"Up"},{"t":81343.9,"v":-0.14,"s":"Up"},{"t":81344.9,"v":-0.11,"s":"Up"},{"t":81346.7,"v":-0.18,"s":"Up"},{"t":81348.3,"v":-0.16,"s":"Up"},{"t":81349.9,"v":-0.20,"s":"Up"},{"t":81351.5,"v":-0.21,"s":"Up"},{"t":81352.7,"v":-0.21,"s":"Up"},{"t":81353.9,"v":-0.23,"s":"Up"},{"t":81355.3,"v":-0.14,"s":"Up"},{"t":81356.3,"v":-0.18,"s":"Up"},{"t":81357.5,"v":-0.17,"s":"Up"},{"t":81359.2,"v":-0.18,"s":"Up"},{"t":81360.6,"v":-0.18,"s":"Up"},{"t":81361.6,"v":-0.13,"s":"Up"},{"t":81362.8,"v":-0.17,"s":"Up"},{"t":81364.0,"v":-0.11,"s":"Up"},{"t":81365.6,"v":-0.09,"s":"Up"},{"t":81367.2,"v":-0.12,"s":"Up"},{"t":81368.0,"v":-0.14,"s":"Up"},{"t":81368.9,"v":-0.19,"s":"Up"},
      {"t":81370.0,"v":-0.18,"s":"Up"},{"t":81371.2,"v":-0.20,"s":"Up"},{"t":81372.8,"v":-0.23,"s":"Up"},{"t":81374.8,"v":-0.20,"s":"Up"},{"t":81376.8,"v":-0.23,"s":"Up"},{"t":81378.4,"v":-0.21,"s":"Up"},{"t":81380.0,"v":-0.18,"s":"Up"},{"t":81381.6,"v":-0.18,"s":"Up"},{"t":81382.8,"v":-0.18,"s":"Up"},{"t":81384.0,"v":-0.14,"s":"Up"},{"t":81385.6,"v":-0.18,"s":"Up"},{"t":81386.8,"v":-0.14,"s":"Up"},{"t":81388.0,"v":-0.11,"s":"Up"},{"t":81390.0,"v":-0.14,"s":"Up"},{"t":81392.1,"v":-0.17,"s":"Up"},{"t":81393.7,"v":-0.15,"s":"Up"},{"t":81395.1,"v":-0.14,"s":"Up"},{"t":81395.9,"v":-0.08,"s":"Up"},{"t":81397.3,"v":-0.11,"s":"Up"},{"t":81398.9,"v":-0.08,"s":"Up"},{"t":81400.5,"v":-0.07,"s":"Up"},{"t":81401.7,"v":-0.08,"s":"Up"},{"t":81402.6,"v":-0.08,"s":"Up"},{"t":81403.9,"v":-0.05,"s":"Up"},{"t":81405.7,"v":-0.06,"s":"Up"},{"t":81407.1,"v":-0.10,"s":"Up"},{"t":81408.9,"v":-0.07,"s":"Up"},{"t":81410.9,"v":-0.06,"s":"Up"},{"t":81411.9,"v":-0.03,"s":"Up"},{"t":81412.9,"v":0.01,"s":"Up"},{"t":81413.9,"v":-0.02,"s":"Up"},{"t":81414.9,"v":0.00,"s":"Up"},{"t":81416.0,"v":-0.05,"s":"Up"},{"t":81417.7,"v":-0.04,"s":"Up"},{"t":81419.3,"v":-0.06,"s":"Up"},{"t":81421.3,"v":-0.08,"s":"Up"},{"t":81422.9,"v":-0.11,"s":"Up"},{"t":81424.1,"v":-0.08,"s":"Up"},{"t":81426.1,"v":-0.09,"s":"Up"},{"t":81427.7,"v":-0.07,"s":"Up"},{"t":81429.7,"v":-0.07,"s":"Up"},{"t":81431.3,"v":-0.06,"s":"Up"},{"t":81432.9,"v":-0.09,"s":"Up"},{"t":81434.2,"v":-0.06,"s":"Up"},{"t":81436.2,"v":-0.07,"s":"Up"},{"t":81438.2,"v":-0.05,"s":"Up"},{"t":81439.4,"v":-0.04,"s":"Up"},{"t":81440.2,"v":-0.01,"s":"Up"},{"t":81441.0,"v":-0.06,"s":"Up"},{"t":81442.2,"v":-0.08,"s":"Up"},{"t":81444.2,"v":-0.04,"s":"Up"},{"t":81445.4,"v":-0.03,"s":"Up"},{"t":81446.6,"v":-0.04,"s":"Up"},{"t":81447.8,"v":-0.07,"s":"Up"},{"t":81449.0,"v":-0.02,"s":"Up"},{"t":81450.2,"v":-0.04,"s":"Up"},{"t":81451.4,"v":-0.02,"s":"Up"},{"t":81453.4,"v":-0.03,"s":"Up"},{"t":81454.6,"v":-0.04,"s":"Up"},{"t":81455.8,"v":0.00,"s":"Up"},{"t":81457.0,"v":0.02,"s":"Up"},{"t":81458.2,"v":0.00,"s":"Up"},{"t":81459.8,"v":0.02,"s":"Up"},{"t":81461.0,"v":0.00,"s":"Up"},{"t":81461.8,"v":0.00,"s":"Up"},{"t":81462.8,"v":-0.05,"s":"Up"},{"t":81463.8,"v":-0.04,"s":"Up"},{"t":81465.0,"v":-0.04,"s":"Up"},{"t":81465.8,"v":0.02,"s":"Up"},{"t":81467.0,"v":-0.02,"s":"Up"},{"t":81468.2,"v":0.01,"s":"Up"},{"t":81469.4,"v":-0.01,"s":"Up"},{"t":81470.6,"v":0.00,"s":"Up"},{"t":81471.8,"v":-0.01,"s":"Up"},{"t":81473.0,"v":0.00,"s":"Up"},{"t":81474.2,"v":-0.02,"s":"Up"},{"t":81475.0,"v":-0.03,"s":"Up"},
      {"t":81476.0,"v":-3.2,"s":"Up"},{"t":81480.0,"v":-3.5,"s":"Up"},{"t":81483.3,"v":-2.3,"s":"Up"},{"t":81483.8,"v":-1.97,"s":"Up"},{"t":81484.3,"v":-2.3,"s":"Up"},{"t":81487.0,"v":-3.2,"s":"Up"},
      {"t":81489.8,"v":-0.80,"s":"Up"},{"t":81491.0,"v":-1.38,"s":"Up"},{"t":81492.1,"v":-1.61,"s":"Up"},{"t":81493.2,"v":-1.34,"s":"Up"},{"t":81494.2,"v":-1.34,"s":"Up"},{"t":81495.0,"v":-1.39,"s":"Up"},{"t":81496.1,"v":-1.37,"s":"Up"},{"t":81496.9,"v":-1.13,"s":"Up"},{"t":81497.8,"v":-0.76,"s":"Up"},{"t":81498.6,"v":-0.72,"s":"Up"},{"t":81499.4,"v":-0.58,"s":"Up"},{"t":81500.2,"v":-0.55,"s":"Up"},{"t":81501.0,"v":-0.56,"s":"Up"},{"t":81502.0,"v":-0.34,"s":"Up"},{"t":81503.0,"v":-0.03,"s":"Up"},{"t":81504.0,"v":0.12,"s":"Up"},{"t":81504.8,"v":-0.15,"s":"Up"},{"t":81505.6,"v":-0.18,"s":"Up"},{"t":81506.3,"v":-0.29,"s":"Up"},{"t":81507.1,"v":-0.54,"s":"Up"},{"t":81508.0,"v":-0.51,"s":"Up"},{"t":81509.1,"v":-0.24,"s":"Up"},{"t":81509.9,"v":-0.07,"s":"Up"},{"t":81510.8,"v":0.09,"s":"Up"},{"t":81511.9,"v":0.03,"s":"Up"},{"t":81513.1,"v":0.26,"s":"Up"},{"t":81514.0,"v":0.11,"s":"Up"},{"t":81515.0,"v":0.19,"s":"Up"},{"t":81516.1,"v":0.06,"s":"Up"},{"t":81517.2,"v":-0.07,"s":"Up"},{"t":81518.5,"v":-0.20,"s":"Up"},{"t":81519.6,"v":-0.30,"s":"Up"},{"t":81520.9,"v":-0.15,"s":"Up"},{"t":81521.9,"v":-0.30,"s":"Up"},{"t":81523.1,"v":-0.32,"s":"Up"},{"t":81524.1,"v":-0.35,"s":"Up"},{"t":81525.1,"v":-0.29,"s":"Up"},{"t":81525.9,"v":-0.30,"s":"Up"},{"t":81526.9,"v":-0.40,"s":"Up"},{"t":81527.7,"v":-0.32,"s":"Up"},{"t":81528.5,"v":-0.33,"s":"Up"},{"t":81529.3,"v":-0.34,"s":"Up"},{"t":81530.3,"v":-0.32,"s":"Up"},{"t":81531.1,"v":-0.18,"s":"Up"},{"t":81531.9,"v":-0.18,"s":"Up"},{"t":81533.0,"v":-0.16,"s":"Up"},{"t":81533.9,"v":-0.29,"s":"Up"},{"t":81534.9,"v":-0.30,"s":"Up"},{"t":81535.9,"v":-0.36,"s":"Up"},{"t":81537.0,"v":-0.45,"s":"Up"},{"t":81538.0,"v":-0.35,"s":"Up"},{"t":81538.9,"v":-0.24,"s":"Up"},{"t":81540.0,"v":-0.29,"s":"Up"},{"t":81541.0,"v":-0.25,"s":"Up"},{"t":81542.0,"v":-0.29,"s":"Up"},{"t":81542.7,"v":-0.52,"s":"Up"},{"t":81543.7,"v":-0.54,"s":"Up"},{"t":81544.7,"v":-0.61,"s":"Up"},{"t":81546.0,"v":-0.69,"s":"Up"},{"t":81547.2,"v":-0.61,"s":"Up"},{"t":81548.8,"v":-0.49,"s":"Up"},{"t":81549.9,"v":-0.37,"s":"Up"},{"t":81550.9,"v":-0.54,"s":"Up"},{"t":81552.0,"v":-0.55,"s":"Up"},{"t":81553.0,"v":-0.61,"s":"Up"},{"t":81554.1,"v":-0.52,"s":"Up"},{"t":81554.9,"v":-0.54,"s":"Up"},{"t":81556.0,"v":-0.65,"s":"Up"},{"t":81557.2,"v":-0.64,"s":"Up"},{"t":81558.4,"v":-0.63,"s":"Up"},{"t":81559.2,"v":-0.59,"s":"Up"},{"t":81560.0,"v":-0.47,"s":"Up"},{"t":81561.0,"v":-0.55,"s":"Up"},{"t":81562.0,"v":-0.58,"s":"Up"},
      {"t":81562.8,"v":-0.40,"s":"Up"},{"t":81563.7,"v":-0.40,"s":"Up"},{"t":81565.0,"v":-0.47,"s":"Up"},{"t":81566.0,"v":-0.46,"s":"Up"},{"t":81567.0,"v":-0.53,"s":"Up"},{"t":81568.0,"v":-0.46,"s":"Up"},{"t":81569.2,"v":-0.44,"s":"Up"},{"t":81571.0,"v":-0.42,"s":"Up"},{"t":81572.0,"v":-0.49,"s":"Up"},{"t":81573.0,"v":-0.56,"s":"Up"},{"t":81574.0,"v":-0.61,"s":"Up"},{"t":81575.0,"v":-0.56,"s":"Up"},{"t":81576.0,"v":-0.57,"s":"Up"},{"t":81577.0,"v":-0.71,"s":"Up"},{"t":81578.0,"v":-0.68,"s":"Up"},{"t":81579.8,"v":-0.68,"s":"Up"},{"t":81580.8,"v":-0.74,"s":"Up"},{"t":81582.0,"v":-0.77,"s":"Up"},{"t":81583.0,"v":-0.68,"s":"Up"},{"t":81584.0,"v":-0.66,"s":"Up"},{"t":81585.2,"v":-0.69,"s":"Up"},{"t":81587.0,"v":-0.57,"s":"Up"},{"t":81588.3,"v":-0.61,"s":"Up"},{"t":81589.2,"v":-0.66,"s":"Up"},{"t":81590.0,"v":-0.66,"s":"Up"},{"t":81591.0,"v":-0.73,"s":"Up"},{"t":81592.0,"v":-0.82,"s":"Up"},{"t":81593.1,"v":-0.77,"s":"Up"},{"t":81594.0,"v":-0.79,"s":"Up"},{"t":81595.0,"v":-0.84,"s":"Up"},{"t":81596.0,"v":-0.82,"s":"Up"},{"t":81597.1,"v":-0.84,"s":"Up"},{"t":81598.2,"v":-0.82,"s":"Up"},{"t":81599.2,"v":-0.85,"s":"Up"},{"t":81600.3,"v":-0.90,"s":"Up"},{"t":81601.2,"v":-0.89,"s":"Up"},{"t":81603.0,"v":-0.80,"s":"Up"},{"t":81604.1,"v":-0.87,"s":"Up"},{"t":81605.3,"v":-0.86,"s":"Up"},{"t":81606.1,"v":-0.75,"s":"Up"},{"t":81607.0,"v":-0.83,"s":"Up"},{"t":81608.1,"v":-0.84,"s":"Up"},{"t":81609.3,"v":-0.78,"s":"Up"},{"t":81610.5,"v":-0.77,"s":"Up"},{"t":81611.3,"v":-0.74,"s":"Up"},{"t":81612.1,"v":-0.74,"s":"Up"},{"t":81613.1,"v":-0.70,"s":"Up"},{"t":81614.1,"v":-0.77,"s":"Up"},{"t":81615.0,"v":-0.84,"s":"Up"},{"t":81616.1,"v":-0.84,"s":"Up"},{"t":81617.3,"v":-0.86,"s":"Up"},{"t":81618.1,"v":-0.90,"s":"Up"},{"t":81619.1,"v":-0.92,"s":"Up"},{"t":81620.1,"v":-0.84,"s":"Up"},{"t":81621.1,"v":-0.85,"s":"Up"},{"t":81622.1,"v":-0.88,"s":"Up"},{"t":81623.3,"v":-0.92,"s":"Up"},{"t":81624.3,"v":-0.91,"s":"Up"},{"t":81625.3,"v":-0.97,"s":"Up"},{"t":81626.5,"v":-0.95,"s":"Up"},{"t":81627.3,"v":-0.94,"s":"Up"},{"t":81628.1,"v":-0.90,"s":"Up"},{"t":81629.2,"v":-0.94,"s":"Up"},{"t":81630.1,"v":-0.94,"s":"Up"},{"t":81631.3,"v":-0.91,"s":"Up"},{"t":81632.5,"v":-0.91,"s":"Up"},{"t":81633.7,"v":-0.91,"s":"Up"},{"t":81634.5,"v":-0.92,"s":"Up"},{"t":81635.3,"v":-0.89,"s":"Up"},{"t":81636.1,"v":-0.91,"s":"Up"},{"t":81637.3,"v":-0.95,"s":"Up"},{"t":81638.3,"v":-0.96,"s":"Up"},{"t":81639.1,"v":-0.98,"s":"Up"},{"t":81640.1,"v":-0.92,"s":"Up"},{"t":81641.3,"v":-0.95,"s":"Up"},{"t":81642.5,"v":-0.94,"s":"Up"},{"t":81643.7,"v":-0.94,"s":"Up"},{"t":81644.5,"v":-0.96,"s":"Up"},{"t":81645.7,"v":-0.94,"s":"Up"},{"t":81647.0,"v":-0.97,"s":"Up"},{"t":81648.2,"v":-0.92,"s":"Up"},{"t":81649.2,"v":-0.88,"s":"Up"},{"t":81650.2,"v":-0.90,"s":"Up"},{"t":81651.4,"v":-0.87,"s":"Up"},{"t":81652.4,"v":-0.87,"s":"Up"},{"t":81653.5,"v":-0.86,"s":"Up"},{"t":81655.0,"v":-0.83,"s":"Up"},{"t":81656.2,"v":-0.82,"s":"Up"},{"t":81657.2,"v":-0.80,"s":"Up"},{"t":81658.2,"v":-0.74,"s":"Up"},{"t":81659.2,"v":-0.68,"s":"Up"},{"t":81660.2,"v":-0.68,"s":"Up"},{"t":81661.8,"v":-0.67,"s":"Up"},{"t":81662.8,"v":-0.69,"s":"Up"},{"t":81663.8,"v":-0.72,"s":"Up"},{"t":81664.6,"v":-0.74,"s":"Up"}
    ]
  },
  "resolve": {"axis": {"x": "independent", "y": "independent"}},
  "layer": [
    {
      "data": {"values": [{"start": 81175, "end": 81470, "s": "Static"}]},
      "mark": {"type": "rect", "clip": true},
      "encoding": {
        "x": {"field": "start", "type": "quantitative", "scale": {"domain": [81175, 81664.2], "nice": false, "zero": false},
              "axis": {"orient": "top", "labels": false, "ticks": false, "title": null, "domain": true, "zindex": 1}},
        "x2": {"field": "end"},
        "color": {"field": "s", "type": "nominal",
                  "scale": {"domain": ["East", "North", "Up", "Static"], "range": ["#ff0000", "#008000", "#0000ff", "#e9fce9"]},
                  "legend": {"values": ["East", "North", "Up", "Static"],
                             "encode": {
                               "legend": {"update": {"strokeWidth": {"value": 3}}},
                               "symbols": {"update": {
                                 "shape": {"signal": "datum.value === 'Static' ? 'M-2.38,-0.77H2.38V0.77H-2.38Z' : 'M-2.38,0H2.38'"},
                                 "fill": {"signal": "datum.value === 'Static' ? '#e9fce9' : 'transparent'"},
                                 "stroke": {"signal": "datum.value === 'East' ? '#ff0000' : datum.value === 'North' ? '#008000' : datum.value === 'Up' ? '#0000ff' : 'transparent'"},
                                 "strokeWidth": {"value": 3.2}, "opacity": {"value": 1}}},
                               "labels": {"update": {
                                 "font": {"signal": "datum.value === 'Static' ? 'Liberation Serif' : 'Liberation Sans'"},
                                 "fontStyle": {"signal": "datum.value === 'Static' ? 'italic' : 'normal'"}}}
                             }}}
      }
    },
    {
      "data": {"values": [{"g": -1.5}, {"g": -1.0}, {"g": -0.5}, {"g": 0.0}, {"g": 0.5}, {"g": 1.0}, {"g": 1.5}]},
      "mark": {"type": "rule", "color": "#b0b0b0", "strokeWidth": 2.6, "strokeDash": [21, 5.5, 3, 5.5]},
      "encoding": {
        "y": {"field": "g", "type": "quantitative", "scale": {"domain": [-2, 2], "nice": false, "zero": false},
              "axis": {"orient": "right", "labels": false, "ticks": false, "title": null, "domain": true, "zindex": 1}}
      }
    },
    {
      "data": {"name": "series"},
      "mark": {"type": "line", "clip": true, "strokeWidth": 3, "strokeJoin": "round"},
      "encoding": {
        "x": {"field": "t", "type": "quantitative", "scale": {"domain": [81175, 81664.2], "nice": false, "zero": false},
              "axis": {"orient": "bottom", "values": [81200, 81300, 81400, 81500, 81600], "format": "d", "labelFontSize": 31,
                       "tickSize": -13, "tickWidth": 3, "labelPadding": 23, "labelFlush": false, "labelOverlap": false,
                       "title": "Time [s]", "titleFontSize": 28.5, "titleFontWeight": "bold", "titleX": 1017, "titleY": 73,
                       "titleBaseline": "middle", "titleAlign": "center", "zindex": 1}},
        "y": {"field": "v", "type": "quantitative", "scale": {"domain": [-2, 2], "nice": false, "zero": false},
              "axis": {"orient": "left", "values": [-2, -1.5, -1, -0.5, 0, 0.5, 1, 1.5, 2], "format": ".1f", "labelFontSize": 31,
                       "tickSize": -13, "tickWidth": 3, "labelPadding": 32, "labelFlush": false, "labelOverlap": false,
                       "title": "Position Error [m]", "titleFontSize": 28.5, "titleFontWeight": "bold", "titleX": -117, "titleY": 430.5,
                       "titleBaseline": "middle", "titleAlign": "center", "titleAngle": 270, "zindex": 1}},
        "color": {"field": "s", "type": "nominal", "sort": ["East", "North", "Up", "Static"],
                  "scale": {"domain": ["East", "North", "Up", "Static"], "range": ["#ff0000", "#008000", "#0000ff", "#e9fce9"]},
                  "legend": {"values": ["East", "North", "Up", "Static"],
                             "encode": {
                               "legend": {"update": {"strokeWidth": {"value": 3}}},
                               "symbols": {"update": {
                                 "shape": {"signal": "datum.value === 'Static' ? 'M-2.38,-0.77H2.38V0.77H-2.38Z' : 'M-2.38,0H2.38'"},
                                 "fill": {"signal": "datum.value === 'Static' ? '#e9fce9' : 'transparent'"},
                                 "stroke": {"signal": "datum.value === 'East' ? '#ff0000' : datum.value === 'North' ? '#008000' : datum.value === 'Up' ? '#0000ff' : 'transparent'"},
                                 "strokeWidth": {"value": 3.2}, "opacity": {"value": 1}}},
                               "labels": {"update": {
                                 "font": {"signal": "datum.value === 'Static' ? 'Liberation Serif' : 'Liberation Sans'"},
                                 "fontStyle": {"signal": "datum.value === 'Static' ? 'italic' : 'normal'"}}}
                             }}}
      }
    }
  ]
}
